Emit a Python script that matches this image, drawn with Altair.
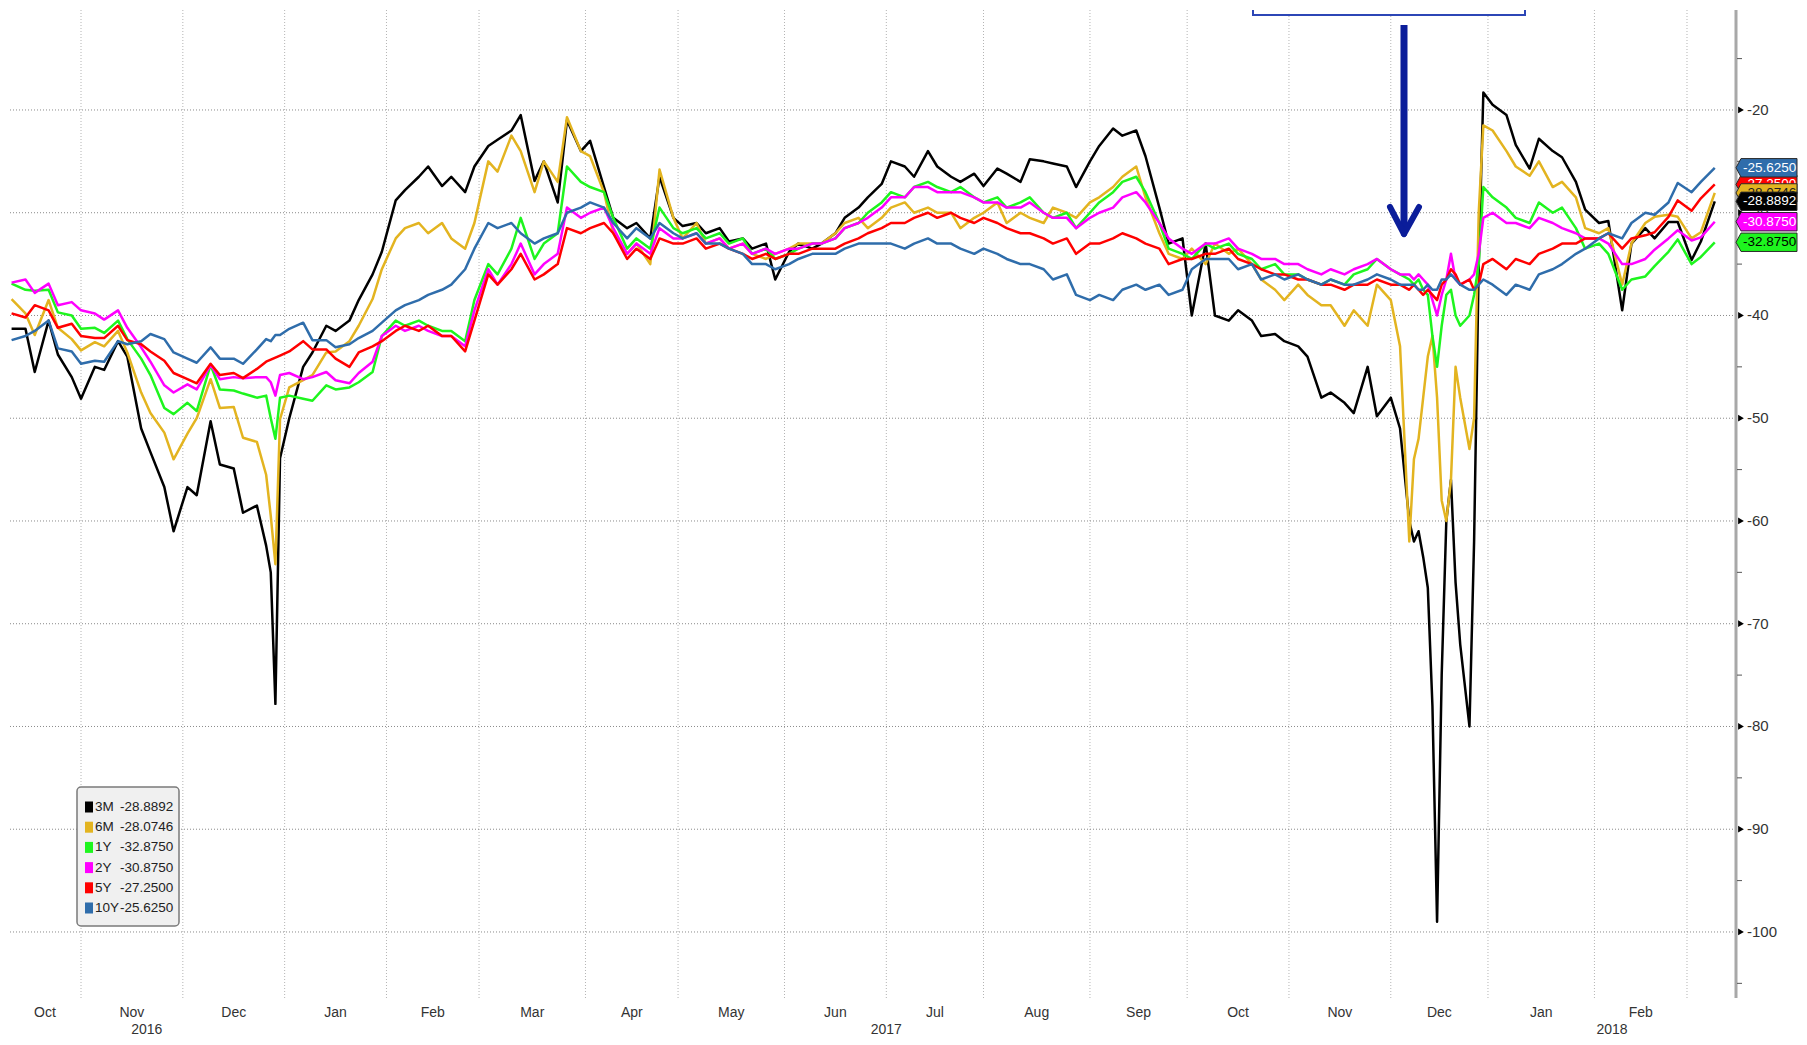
import altair as alt
import numpy as np
import pandas as pd

# ---------------- data ----------------
DATES = [
    "2016-10-11", "2016-10-14", "2016-10-18", "2016-10-21", "2016-10-25", "2016-10-28",
    "2016-11-01", "2016-11-04", "2016-11-08", "2016-11-11", "2016-11-15", "2016-11-18", "2016-11-22", "2016-11-25", "2016-11-29",
    "2016-12-02", "2016-12-06", "2016-12-09", "2016-12-13", "2016-12-16", "2016-12-20", "2016-12-23", "2016-12-27", "2016-12-28", "2016-12-29", "2016-12-30",
    "2017-01-03", "2017-01-06", "2017-01-10", "2017-01-13", "2017-01-17", "2017-01-20", "2017-01-24", "2017-01-27", "2017-01-31",
    "2017-02-03", "2017-02-07", "2017-02-10", "2017-02-14", "2017-02-17", "2017-02-21", "2017-02-24", "2017-02-28",
    "2017-03-03", "2017-03-07", "2017-03-10", "2017-03-14", "2017-03-17", "2017-03-21", "2017-03-24", "2017-03-28", "2017-03-31",
    "2017-04-04", "2017-04-07", "2017-04-11", "2017-04-14", "2017-04-18", "2017-04-21", "2017-04-25", "2017-04-28",
    "2017-05-02", "2017-05-05", "2017-05-09", "2017-05-12", "2017-05-16", "2017-05-19", "2017-05-23", "2017-05-26", "2017-05-30",
    "2017-06-02", "2017-06-06", "2017-06-09", "2017-06-13", "2017-06-16", "2017-06-20", "2017-06-23", "2017-06-27", "2017-06-30",
    "2017-07-04", "2017-07-07", "2017-07-11", "2017-07-14", "2017-07-18", "2017-07-21", "2017-07-25", "2017-07-28",
    "2017-08-01", "2017-08-04", "2017-08-08", "2017-08-11", "2017-08-15", "2017-08-18", "2017-08-22", "2017-08-25", "2017-08-29",
    "2017-09-01", "2017-09-05", "2017-09-08", "2017-09-12", "2017-09-15", "2017-09-19", "2017-09-22", "2017-09-26", "2017-09-29",
    "2017-10-03", "2017-10-06", "2017-10-10", "2017-10-13", "2017-10-17", "2017-10-20", "2017-10-24", "2017-10-27", "2017-10-31",
    "2017-11-03", "2017-11-07", "2017-11-10", "2017-11-14", "2017-11-17", "2017-11-21", "2017-11-24", "2017-11-28",
    "2017-12-01", "2017-12-05", "2017-12-07", "2017-12-08", "2017-12-11", "2017-12-12", "2017-12-13", "2017-12-14", "2017-12-15",
    "2017-12-18", "2017-12-19", "2017-12-20", "2017-12-21", "2017-12-22", "2017-12-26", "2017-12-27", "2017-12-28", "2017-12-29",
    "2018-01-02", "2018-01-05", "2018-01-09", "2018-01-12", "2018-01-16", "2018-01-19", "2018-01-23", "2018-01-26", "2018-01-30",
    "2018-02-02", "2018-02-06", "2018-02-09", "2018-02-13", "2018-02-16", "2018-02-20", "2018-02-23", "2018-02-27",
    "2018-03-02", "2018-03-06", "2018-03-09",
]

M3 = [
    -41.3, -41.3, -45.5, -40.5, -43.8, -46.0,
    -48.1, -45.0, -45.3, -42.5, -44.0, -51.0, -53.3, -56.7, -61.0,
    -56.7, -57.5, -50.3, -54.5, -54.9, -59.2, -58.5, -62.4, -65.0, -77.8, -53.9,
    -50.0, -45.0, -43.6, -41.0, -41.5, -40.5, -38.5, -36.0, -33.8,
    -28.8, -27.8, -26.5, -25.5, -27.4, -26.5, -28.0, -25.5,
    -23.5, -22.9, -22.0, -20.5, -26.9, -25.0, -29.0, -21.0, -24.0,
    -23.0, -27.5, -30.5, -31.5, -31.0, -32.5, -26.5, -30.5,
    -31.3, -31.0, -32.0, -31.5, -32.8, -32.5, -33.5, -33.0, -36.5,
    -33.8, -33.0, -33.5, -33.0, -32.0, -30.5, -29.5, -28.5, -27.2,
    -25.0, -25.5, -26.5, -24.0, -25.5, -26.5, -27.0, -26.2,
    -27.4, -25.7, -26.2, -27.0, -24.8, -25.0, -25.2, -25.5, -27.5,
    -25.0, -23.5, -21.8, -22.5, -22.0, -24.5, -29.5, -33.0, -32.5,
    -40.0, -33.0, -40.0, -40.5, -39.5, -40.5, -42.0, -41.8, -42.5,
    -43.0, -44.0, -48.0, -47.5, -48.5, -49.5, -45.0, -49.8,
    -48.0, -51.0, -60.0, -62.0, -61.0, -63.5, -66.5, -78.0, -99.0,
    -75.0, -60.0, -56.0, -66.0, -72.0, -80.0, -62.0, -35.0, -18.3,
    -19.5, -20.5, -23.4, -25.7, -22.8, -24.0, -24.6, -27.0, -29.7,
    -31.0, -30.8, -39.5, -33.0, -31.5, -32.5, -30.9, -30.9,
    -34.6, -32.8, -28.8892,
]

M6 = [
    -38.4, -39.8, -41.9, -38.5, -41.2, -42.3,
    -43.4, -42.6, -43.0, -41.5, -43.6, -47.5, -49.5, -51.4, -54.0,
    -51.5, -50.0, -46.2, -49.0, -48.9, -51.9, -52.3, -55.5, -59.5, -64.2, -50.1,
    -47.0, -46.3, -45.8, -43.6, -43.5, -42.5, -41.0, -38.4, -35.5,
    -32.5, -31.5, -31.0, -32.0, -31.0, -32.5, -33.5, -31.0,
    -25.0, -26.0, -22.5, -24.0, -28.0, -25.0, -27.0, -20.7, -24.0,
    -24.5, -28.0, -32.0, -34.0, -33.0, -35.0, -25.8, -30.5,
    -32.5, -31.0, -33.0, -32.5, -33.5, -33.0, -34.0, -34.5, -34.0,
    -33.5, -33.0, -33.0, -33.0, -32.0, -31.0, -30.5, -31.5, -30.5,
    -29.5, -29.0, -30.0, -29.5, -30.0, -30.0, -31.5, -30.5,
    -30.0, -29.0, -31.0, -30.0, -30.5, -31.0, -29.5, -30.0, -30.5,
    -29.0, -28.5, -27.5, -26.5, -25.5, -28.5, -32.0, -34.0, -34.5,
    -33.5, -35.0, -33.0, -34.0, -33.5, -35.0, -36.5, -37.5, -38.5,
    -37.0, -38.0, -39.0, -39.0, -41.0, -39.5, -41.0, -37.0,
    -38.5, -43.0, -62.0, -54.0, -52.0, -48.0, -44.0, -42.0, -48.0,
    -58.0, -60.0, -56.0, -45.0, -48.0, -53.0, -50.0, -30.0, -21.5,
    -22.0, -24.0, -25.5, -26.4, -25.0, -27.5, -27.0, -28.5, -31.5,
    -32.0, -31.5, -37.0, -33.0, -31.0, -30.4, -30.2, -30.4,
    -32.5, -31.9, -28.0746,
]

Y1 = [
    -36.9, -37.5, -37.6, -37.5, -39.7, -40.0,
    -41.3, -41.2, -41.7, -40.5, -42.3, -44.2, -45.8, -49.0, -49.6,
    -48.5, -49.3, -44.8, -47.2, -47.3, -47.6, -48.0, -47.8, -50.0, -52.0, -48.0,
    -47.8, -48.1, -48.3, -46.8, -47.2, -47.0, -46.5, -45.5, -42.0,
    -40.5, -41.0, -40.5, -41.0, -41.5, -41.5, -42.5, -38.5,
    -35.0, -36.0, -33.5, -30.5, -34.5, -33.0, -32.0, -25.5, -27.0,
    -27.5, -28.0, -30.5, -33.5, -32.5, -33.5, -29.5, -31.5,
    -32.0, -31.5, -32.5, -32.0, -33.0, -32.5, -34.0, -33.5, -34.5,
    -34.0, -33.5, -33.0, -33.0, -32.5, -31.5, -31.0, -30.0, -29.0,
    -28.0, -28.5, -27.5, -27.0, -27.5, -28.0, -27.5, -28.5,
    -29.0, -28.5, -29.5, -29.0, -28.5, -30.0, -30.5, -30.0, -31.5,
    -30.0, -29.0, -28.0, -27.0, -26.5, -28.0, -31.0, -33.5, -34.0,
    -34.5, -33.0, -33.5, -33.0, -34.0, -34.5, -35.5, -35.0, -36.0,
    -36.0, -36.5, -37.0, -36.5, -37.0, -36.0, -35.5, -34.5,
    -35.5, -36.0, -36.5, -37.0, -36.5, -37.5, -38.0, -42.0, -45.0,
    -41.0, -38.0, -37.5, -40.0, -41.0, -40.0, -38.0, -35.0, -27.5,
    -28.5, -29.5, -30.5, -31.0, -29.0, -30.0, -29.5, -31.5, -33.5,
    -33.0, -34.0, -37.5, -36.5, -36.2, -35.2, -33.8, -32.6,
    -35.0, -34.3, -32.875,
]

Y2 = [
    -36.8, -36.5, -37.8, -36.9, -39.0, -38.7,
    -39.5, -39.8, -40.4, -39.5, -41.2, -43.1, -44.5, -46.8, -47.5,
    -46.7, -47.2, -44.8, -46.2, -46.0, -46.1, -46.0, -46.0, -46.5, -47.8, -45.8,
    -45.6, -46.2, -46.0, -45.5, -46.3, -46.6, -45.6, -44.5, -42.0,
    -41.0, -41.5, -41.0, -41.5, -42.0, -42.0, -43.0, -39.5,
    -35.5, -37.0, -35.0, -33.0, -36.0, -35.0, -34.0, -29.5, -30.5,
    -30.0, -29.5, -31.5, -34.0, -33.0, -34.0, -31.5, -32.5,
    -32.5, -32.0, -33.0, -32.5, -33.5, -33.0, -34.0, -33.5, -34.0,
    -33.5, -33.5, -33.0, -33.0, -32.5, -31.5, -31.0, -30.5, -29.5,
    -28.5, -28.5, -27.5, -27.5, -28.0, -28.0, -28.0, -28.5,
    -29.0, -29.0, -29.5, -29.5, -29.0, -30.0, -30.5, -30.5, -31.5,
    -30.5, -30.0, -29.5, -28.5, -28.0, -29.0, -31.0, -32.5, -33.5,
    -34.0, -33.0, -33.0, -32.5, -33.5, -34.0, -34.5, -34.5, -35.0,
    -35.0, -35.5, -36.0, -35.5, -36.0, -35.5, -35.0, -34.5,
    -35.5, -36.0, -36.0, -36.5, -36.0, -36.5, -37.0, -38.5, -40.0,
    -38.0, -36.5, -34.0, -36.5, -37.0, -36.5, -36.0, -34.0, -30.5,
    -30.0, -31.0, -31.0, -31.5, -30.5, -31.0, -31.5, -32.0, -32.5,
    -32.5, -33.0, -35.0, -35.0, -34.5, -33.6, -32.5, -31.7,
    -32.7, -32.4, -30.875,
]

Y5 = [
    -39.8, -40.2, -39.0, -39.5, -41.2, -40.8,
    -42.0, -42.2, -42.2, -41.0, -42.4, -42.8, -43.5, -44.4, -45.6,
    -46.2, -46.6, -44.7, -45.8, -45.6, -46.1, -45.2, -44.5, -44.3, -44.1, -43.9,
    -43.5, -42.5, -43.3, -43.3, -44.2, -45.0, -43.6, -43.0, -42.5,
    -41.5, -41.0, -41.5, -41.0, -42.0, -42.0, -43.5, -40.5,
    -36.0, -37.0, -35.5, -34.0, -36.5, -36.0, -35.0, -31.5, -32.0,
    -31.5, -31.0, -32.0, -34.5, -33.5, -34.5, -32.5, -33.0,
    -33.0, -32.5, -33.5, -33.0, -33.5, -34.0, -34.5, -34.0, -34.5,
    -34.0, -34.0, -33.5, -33.5, -33.5, -33.0, -32.5, -32.0, -31.5,
    -31.0, -31.0, -30.5, -30.0, -30.5, -30.0, -30.5, -31.0,
    -30.5, -31.0, -31.5, -32.0, -32.0, -32.5, -33.0, -32.5, -34.0,
    -33.0, -33.0, -32.5, -32.0, -32.5, -33.0, -33.5, -35.0, -34.5,
    -34.5, -34.0, -34.0, -33.5, -34.5, -35.0, -35.5, -36.0, -36.0,
    -36.5, -36.5, -37.0, -37.0, -37.5, -37.0, -37.0, -36.5,
    -37.0, -37.0, -37.5, -37.0, -37.5, -38.0, -37.5, -38.0, -38.5,
    -37.0, -36.5, -35.5, -36.0, -37.0, -36.5, -37.5, -37.0, -35.0,
    -34.5, -35.5, -34.5, -35.0, -34.0, -33.5, -33.0, -33.0, -32.5,
    -32.5, -32.0, -33.5, -32.5, -32.2, -31.9, -30.4, -28.8,
    -29.8, -28.6, -27.25,
]

Y10 = [
    -42.4, -42.0, -41.5, -40.5, -43.2, -43.5,
    -44.7, -44.4, -44.5, -42.5, -42.8, -42.5, -41.8, -42.3, -43.6,
    -44.2, -44.6, -43.1, -44.2, -44.2, -44.7, -43.3, -42.3, -42.5, -41.9, -41.9,
    -41.3, -40.7, -42.4, -42.4, -43.1, -42.8, -42.2, -41.5, -40.7,
    -39.5, -39.0, -38.5, -38.0, -37.5, -37.0, -35.5, -33.5,
    -31.0, -31.5, -31.0, -32.0, -33.0, -32.5, -32.0, -30.0, -29.5,
    -29.0, -29.5, -31.0, -32.5, -31.5, -32.5, -31.0, -32.0,
    -32.5, -32.0, -33.0, -33.0, -33.5, -34.0, -35.0, -35.0, -35.5,
    -35.0, -34.5, -34.0, -34.0, -34.0, -33.5, -33.0, -33.0, -33.0,
    -33.0, -33.5, -33.0, -32.5, -33.0, -33.0, -33.5, -34.0,
    -33.5, -34.0, -34.5, -35.0, -35.0, -35.5, -36.5, -36.0, -38.0,
    -38.5, -38.0, -38.5, -37.5, -37.0, -37.5, -37.0, -38.0, -37.5,
    -35.5, -34.5, -34.5, -34.5, -35.5, -35.0, -36.5, -36.0, -36.5,
    -36.0, -36.5, -37.0, -36.5, -37.0, -37.0, -36.5, -36.0,
    -36.5, -37.0, -37.0, -37.0, -37.5, -37.5, -37.0, -37.5, -37.5,
    -36.5, -36.5, -36.0, -36.5, -37.0, -37.5, -37.5, -37.0, -36.5,
    -37.0, -38.0, -37.0, -37.5, -36.0, -35.5, -35.0, -34.0, -33.5,
    -32.5, -32.0, -32.5, -31.0, -30.0, -30.2, -29.0, -27.1,
    -28.0, -27.0, -25.625,
]

SERIES = ["3M", "6M", "1Y", "2Y", "5Y", "10Y"]
VALUES = [M3, M6, Y1, Y2, Y5, Y10]
COLORS = ["#000000", "#e3b420", "#1ef51e", "#ff00ff", "#ff0000", "#2f6dab"]
LAST_TEXT = ["-28.8892", "-28.0746", "-32.8750", "-30.8750", "-27.2500", "-25.6250"]
TAG_TEXT_COLOR = ["#ffffff", "#222222", "#000000", "#ffffff", "#ffffff", "#ffffff"]
MONTH_NAMES = ["Oct", "Nov", "Dec", "Jan", "Feb", "Mar", "Apr", "May", "Jun",
               "Jul", "Aug", "Sep", "Oct", "Nov", "Dec", "Jan", "Feb"]
YEAR_NAMES = ["2016", "2017", "2018"]
Y_MAJOR = [-20, -30, -40, -50, -60, -70, -80, -90, -100]
Y_MINOR = [-15, -25, -35, -45, -55, -65, -75, -85, -95, -105]

for vals in VALUES:
    assert len(vals) == len(DATES)

# ---------------- scales (business-day axis) ----------------
FONT = "Liberation Sans"
W, H = 1727, 988
BASE = "2016-11-01"


def bidx(d):
    return float(np.busday_count(BASE, d))


X0, X1 = -15.56, 357.59
YHI = -10.27
YLO = YHI - H / 10.275
xs = alt.Scale(domain=[X0, X1], nice=False, zero=False)
ys = alt.Scale(domain=[YLO, YHI], nice=False, zero=False)

rows = []
for name, vals in zip(SERIES, VALUES):
    for d, v in zip(DATES, vals):
        rows.append({"series": name, "bd": bidx(d), "v": v})
df = pd.DataFrame(rows)

month_starts = [f"{y}-{m:02d}-01" for y, m in
                [(2016, 11), (2016, 12)] + [(2017, k) for k in range(1, 13)] + [(2018, 1), (2018, 2), (2018, 3)]]
ms_idx = [bidx(d) for d in month_starts]
bounds = [X0] + ms_idx
month_pos = [(bounds[i] + bounds[i + 1]) / 2 for i in range(len(MONTH_NAMES))]
months_df = pd.DataFrame({"lbl": MONTH_NAMES, "pos": month_pos})
grid_x_df = pd.DataFrame({"pos": ms_idx})
j17, j18 = bidx("2017-01-01"), bidx("2018-01-01")
years_df = pd.DataFrame({"lbl": YEAR_NAMES, "pos": [(X0 + j17) / 2, (j17 + j18) / 2, (j18 + X1) / 2]})
major_df = pd.DataFrame({"v": Y_MAJOR, "bd": [X1] * len(Y_MAJOR),
                         "lbl": ["-" + str(abs(v)) for v in Y_MAJOR]})
minor_df = pd.DataFrame({"v": Y_MINOR})


def xq(field="bd"):
    return alt.X(f"{field}:Q", scale=xs, axis=None)


def yq(field="v"):
    return alt.Y(f"{field}:Q", scale=ys, axis=None)


one = pd.DataFrame({"a": [0]})
layers = []

# vertical month grid and horizontal value grid
layers.append(alt.Chart(grid_x_df).mark_rule(color="#b4b4b4", strokeDash=[1, 2], strokeWidth=1)
              .encode(x=xq("pos")))
layers.append(alt.Chart(major_df).mark_rule(color="#8a8a8a", strokeDash=[1, 2], strokeWidth=1)
              .encode(y=yq("v")))

# series lines
for name, col in zip(SERIES, COLORS):
    layers.append(alt.Chart(df).transform_filter(alt.datum.series == name)
                  .mark_line(color=col, strokeWidth=2.5, strokeJoin="round")
                  .encode(x=xq(), y=yq()))

# right value axis drawn by hand: domain line, minor ticks, triangles, labels
layers.append(alt.Chart(one).mark_rule(color="#a8a8a8", strokeWidth=3)
              .encode(x=alt.value(W), y=alt.value(0), y2=alt.value(H)))
layers.append(alt.Chart(minor_df).mark_rule(color="#555555", strokeWidth=1)
              .encode(x=alt.value(W + 1), x2=alt.value(W + 6), y=yq("v")))
layers.append(alt.Chart(major_df).mark_point(shape="triangle-right", size=45, filled=True,
                                             color="#000000", opacity=1, xOffset=5)
              .encode(x=xq(), y=yq()))
layers.append(alt.Chart(major_df).mark_text(font=FONT, fontSize=15, color="#333333", align="left",
                                            baseline="middle", dx=11)
              .encode(x=xq(), y=yq(), text="lbl:N"))

# month and year labels
layers.append(alt.Chart(months_df).mark_text(font=FONT, fontSize=14, color="#333333", baseline="middle")
              .encode(x=xq("pos"), y=alt.value(H + 15), text="lbl:N"))
layers.append(alt.Chart(years_df).mark_text(font=FONT, fontSize=14, color="#333333", baseline="middle")
              .encode(x=xq("pos"), y=alt.value(H + 32), text="lbl:N"))

# legend box
layers.append(alt.Chart(one).mark_rect(fill="#f0f0f0", stroke="#7a7a7a", strokeWidth=1.5, cornerRadius=4)
              .encode(x=alt.value(68), x2=alt.value(170), y=alt.value(777), y2=alt.value(916)))
for i, (name, col, lt) in enumerate(zip(SERIES, COLORS, LAST_TEXT)):
    ry = 797 + 20.2 * i
    layers.append(alt.Chart(one).mark_rect(color=col)
                  .encode(x=alt.value(76), x2=alt.value(84), y=alt.value(ry - 5.5), y2=alt.value(ry + 5.5)))
    layers.append(alt.Chart(one).mark_text(font=FONT, fontSize=13.5, color="#222222", align="left",
                                           baseline="middle", text=name)
                  .encode(x=alt.value(86), y=alt.value(ry)))
    layers.append(alt.Chart(one).mark_text(font=FONT, fontSize=13.5, color="#222222", align="left",
                                           baseline="middle", text=lt)
                  .encode(x=alt.value(111), y=alt.value(ry)))

# value tags on the right axis (they overlap each other as in the original)
TAG_PATH = "M0,0 L5,-9.2 L61,-9.2 L61,9.2 L5,9.2 Z"
for i in [2, 3, 4, 1, 0, 5]:
    tdf = pd.DataFrame({"bd": [X1], "v": [VALUES[i][-1]], "t": [LAST_TEXT[i]]})
    layers.append(alt.Chart(tdf).mark_point(shape=TAG_PATH, size=4, filled=True, color=COLORS[i],
                                            stroke="#2a2a2a", strokeWidth=1, opacity=1)
                  .encode(x=xq(), y=yq()))
    layers.append(alt.Chart(tdf).mark_text(font=FONT, fontSize=13.5, color=TAG_TEXT_COLOR[i], align="left",
                                           baseline="middle", dx=7)
                  .encode(x=xq(), y=yq(), text="t:N"))

# annotation: arrow and clipped box at top
ARROW = "#0b1d9a"
layers.append(alt.Chart(one).mark_rule(color=ARROW, strokeWidth=7)
              .encode(x=alt.value(1395), y=alt.value(15), y2=alt.value(220)))
layers.append(alt.Chart(one).mark_rule(color=ARROW, strokeWidth=6, strokeCap="round")
              .encode(x=alt.value(1381), x2=alt.value(1395), y=alt.value(197), y2=alt.value(224)))
layers.append(alt.Chart(one).mark_rule(color=ARROW, strokeWidth=6, strokeCap="round")
              .encode(x=alt.value(1410), x2=alt.value(1395), y=alt.value(197), y2=alt.value(224)))
layers.append(alt.Chart(one).mark_rect(fill="#ffffff", stroke="#2c46b6", strokeWidth=2, clip=True)
              .encode(x=alt.value(1244), x2=alt.value(1516), y=alt.value(-30), y2=alt.value(5)))

chart = (alt.layer(*layers)
         .properties(width=W, height=H, padding={"left": 0, "top": 0, "right": 0, "bottom": 0},
                     background="#ffffff")
         .configure_view(strokeWidth=0))

chart.save("out.html", embed_options={"renderer": "svg", "actions": False})
